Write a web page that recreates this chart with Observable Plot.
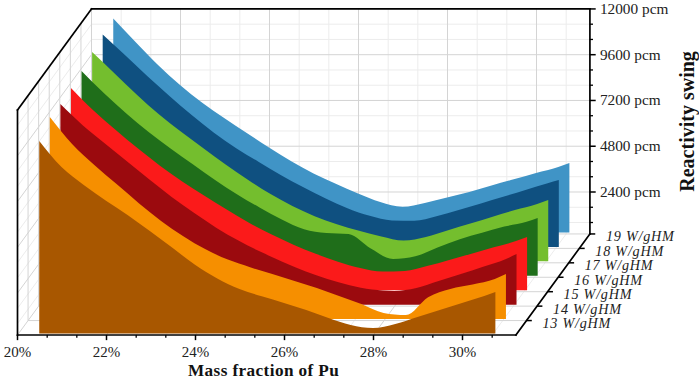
<!DOCTYPE html>
<html>
<head>
<meta charset="utf-8">
<script src="https://cdn.jsdelivr.net/npm/d3@7"></script>
<script src="https://cdn.jsdelivr.net/npm/@observablehq/plot@0.6"></script>
<style>
html,body{margin:0;padding:0;background:#fff;}
svg{display:block;}
.spaced text{letter-spacing:0.75px;}
.spacedTitle text{letter-spacing:0.4px;}
</style>
</head>
<body>
<div id="chart"></div>
<script>
const massFraction = [20.5,21,21.5,22,22.5,23,23.5,24,24.5,25,25.5,26,26.5,27,27.5,28,28.5,29,29.5,30,30.5,30.75];
const brownValues  = [10350,8980,8040,7210,6440,5600,4730,3860,3140,2590,2200,1850,1480,1070,700,540,750,1120,1480,1850,2220,2430];
const orangeValues = [10845,9430,8330,7330,6330,5400,4600,3910,3370,2970,2610,2250,1880,1460,1040,570,460,1400,1830,2060,2350,2610];
const darkRedValues= [10770,9660,8700,7760,6810,5900,5070,4290,3610,3020,2490,2000,1590,1270,1040,970,1120,1490,1860,2240,2630,2910];
const redValues    = [10860,9690,8660,7690,6780,5950,5200,4480,3790,3180,2640,2160,1750,1420,1230,1260,1520,1840,2170,2500,2830,3040];
const darkGreenValues=[10990,9840,8780,7800,6920,6100,5280,4520,3830,3200,2690,2490,2440,1680,1130,1270,1740,2170,2510,2830,3080,3280];
const greenValues  = [11230,10120,9000,7960,7050,6180,5330,4530,3790,3150,2620,2200,1850,1560,1340,1530,1880,2230,2590,2940,3260,3470];
const darkBlueValues=[11390,10310,9220,8170,7170,6240,5430,4720,4020,3390,2800,2280,1880,1640,1620,1860,2190,2530,2880,3240,3590,3760];
const blueValues   = [11470,10240,9050,7990,7060,6240,5470,4710,3990,3350,2810,2300,1850,1600,1800,2090,2380,2710,3040,3370,3690,3900];
const seriesValues = [brownValues,orangeValues,darkRedValues,redValues,darkGreenValues,greenValues,darkBlueValues,blueValues];
const seriesColors = ["#a85700","#f68f00","#9b0a0e","#fb1a1a","#1f6e1a","#74be2e","#0f5080","#4094c6"];
const depthLabels = ["13 W/gHM","14 W/gHM","15 W/gHM","16 W/gHM","17 W/gHM","18 W/gHM","19 W/gHM"];
const xMajor = [20,22,24,26,28,30];
const xMinor = [20.667,21.333,22.667,23.333,24.667,25.333,26.667,27.333,28.667,29.333,30.667];
const yMajor = [2400,4800,7200,9600,12000];
const yMinor = [800,1600,3200,4000,5600,6400,8000,8800,10400,11200];

const X0=20, X1=31.2, Y0=200, Y1=12000, base=250;
const dX=0.2376, dY=757, D=7;
const serif="Liberation Serif";
const depths=d3.range(0,8);

const areaRows = seriesValues.flatMap((vals,d)=>massFraction.map((p,i)=>({
  d, x:p+d*dX, y1:base+d*dY, y2:vals[i]+d*dY
})));

const grey="#d4d4d4", soft="#ececec";
function gridLinks(xs,ys,stroke,w){
  const rows=[];
  xs.forEach(p=>{
    rows.push({x1:p+D*dX,x2:p+D*dX,y1:Y0+D*dY,y2:Y1+D*dY});
    rows.push({x1:p,x2:p+D*dX,y1:Y0,y2:Y0+D*dY});
  });
  ys.forEach(v=>{
    rows.push({x1:X0+D*dX,x2:X1+D*dX,y1:v+D*dY,y2:v+D*dY});
    rows.push({x1:X0,x2:X0+D*dX,y1:v,y2:v+D*dY});
  });
  return Plot.link(rows,{x1:"x1",x2:"x2",y1:"y1",y2:"y2",stroke,strokeWidth:w});
}
const depthRows=depths.slice(1).map(d=>({d}));
const frame=[
  {x1:X0,y1:Y0,x2:X1,y2:Y0},
  {x1:X0,y1:Y0,x2:X0,y2:Y1},
  {x1:X0,y1:Y1,x2:X0+D*dX,y2:Y1+D*dY},
  {x1:X0+D*dX,y1:Y1+D*dY,x2:X1+D*dX,y2:Y1+D*dY},
  {x1:X1+D*dX,y1:Y1+D*dY,x2:X1+D*dX,y2:Y0+D*dY},
  {x1:X1,y1:Y0,x2:X1+D*dX,y2:Y0+D*dY}
];

const chart=Plot.plot({
  width:699,height:379,margin:0,
  style:{background:"#fff",overflow:"visible"},
  x:{domain:[20,20+573/44.5],range:[17,590],axis:null},
  y:{domain:[200,200+326.5*52.44],range:[334.5,8],axis:null},
  marks:[
    gridLinks(xMinor,yMinor,soft,1),
    gridLinks(xMajor,yMajor,grey,1),
    Plot.link(depthRows,{x1:d=>X0+d.d*dX,x2:d=>X0+d.d*dX,y1:d=>Y0+d.d*dY,y2:d=>Y1+d.d*dY,stroke:grey,strokeWidth:1}),
    Plot.link(depthRows,{x1:d=>X0+d.d*dX,x2:d=>X1+d.d*dX,y1:d=>Y0+d.d*dY,y2:d=>Y0+d.d*dY,stroke:grey,strokeWidth:1}),
    ...depths.slice().reverse().map(d=>Plot.areaY(areaRows.filter(r=>r.d===d),{
      x:"x",y1:"y1",y2:"y2",fill:seriesColors[d],curve:"monotone-x"
    })),
    Plot.link(frame,{x1:"x1",x2:"x2",y1:"y1",y2:"y2",stroke:"#000",strokeWidth:1.7,strokeLinecap:"square"}),
    Plot.link(xMajor,{x1:d=>d,x2:d=>d,y1:Y0,y2:Y0-270,stroke:"#000",strokeWidth:1.5}),
    Plot.link(xMinor,{x1:d=>d,x2:d=>d,y1:Y0,y2:Y0-140,stroke:"#000",strokeWidth:1.3}),
    Plot.link(yMajor,{x1:X1+D*dX,x2:X1+D*dX+0.13,y1:d=>d+D*dY,y2:d=>d+D*dY,stroke:"#000",strokeWidth:1.5}),
    Plot.link(yMinor,{x1:X1+D*dX,x2:X1+D*dX+0.07,y1:d=>d+D*dY,y2:d=>d+D*dY,stroke:"#000",strokeWidth:1.3}),
    Plot.link(depthRows,{x1:d=>X1+d.d*dX,x2:d=>X1+d.d*dX+0.12,y1:d=>Y0+d.d*dY,y2:d=>Y0+d.d*dY,stroke:"#000",strokeWidth:1.5}),
    Plot.text(xMajor,{x:d=>d,y:Y0,text:d=>d+"%",dy:17.5,fontFamily:serif,fontSize:15,fill:"#222"}),
    Plot.text(yMajor,{x:X1+D*dX,y:d=>d+D*dY,text:d=>d+" pcm",dx:10,textAnchor:"start",fontFamily:serif,fontSize:15.3,fill:"#222"}),
    Plot.text(depthLabels,{x:(t,i)=>X1+(i+1)*dX,y:(t,i)=>Y0+(i+1)*dY,text:t=>t,dx:16,dy:3,textAnchor:"start",fontFamily:serif,fontStyle:"italic",fontSize:14.2,fill:"#222",className:"spaced"}),
    Plot.text(["Mass fraction of Pu"],{x:25.53,y:Y0,text:t=>t,dy:35.2,fontFamily:serif,fontWeight:"bold",fontSize:17.2,fill:"#111",className:"spacedTitle"}),
    Plot.text(["Reactivity swing"],{x:X1+D*dX,y:6100+D*dY,text:t=>t,dx:98,rotate:-90,fontFamily:serif,fontWeight:"bold",fontSize:20,fill:"#111"})
  ]
});
document.getElementById("chart").append(chart);
</script>
</body>
</html>
